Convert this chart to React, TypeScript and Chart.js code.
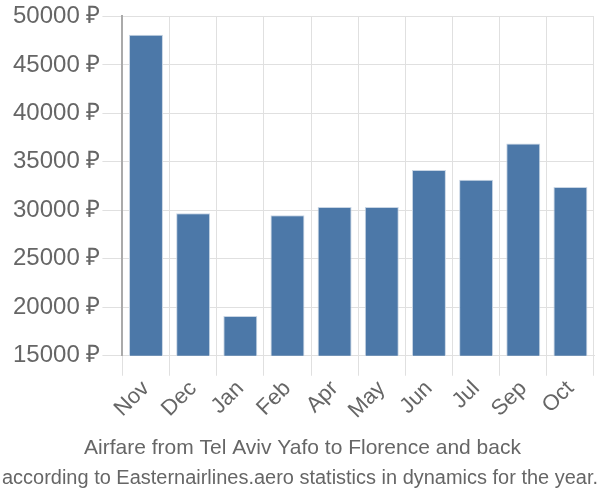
import React, { useEffect, useRef } from "react";
import { Chart, registerables } from "chart.js";

Chart.register(...registerables);

const categories = ["Nov", "Dec", "Jan", "Feb", "Apr", "May", "Jun", "Jul", "Sep", "Oct"];
const prices = [48100, 29700, 19100, 29500, 30350, 30350, 34150, 33150, 36900, 32400];
const yTicks = [15000, 20000, 25000, 30000, 35000, 40000, 45000, 50000];
const titleText = "Airfare from Tel Aviv Yafo to Florence and back";
const subtitleText = "according to Easternairlines.aero statistics in dynamics for the year.";

const narrowSubtitle = {
  id: "narrowSubtitle",
  afterDraw(chart: any) {
    const box = chart.boxes.find((b: any) => b.options && b.options.text === subtitleText);
    if (!box) return;
    const ctx = chart.ctx;
    ctx.save();
    ctx.font = "20px 'Liberation Sans'";
    const w = ctx.measureText(subtitleText).width;
    const cy = box.top + 5 + 12;
    ctx.translate(300, cy);
    ctx.scale(596 / w, 1);
    ctx.textAlign = "center";
    ctx.textBaseline = "middle";
    ctx.fillStyle = "#666";
    ctx.fillText(subtitleText, 0, 0);
    ctx.restore();
  },
};

export default function App() {
  const ref = useRef<HTMLCanvasElement | null>(null);
  useEffect(() => {
    if (!ref.current) return;
    const chart = new Chart(ref.current, {
      type: "bar",
      data: {
        labels: categories,
        datasets: [
          {
            data: prices,
            backgroundColor: "#4c78a8",
            borderColor: "#c8d5e4",
            borderWidth: 1,
          },
        ],
      },
      options: {
        animation: false,
        responsive: false,
        layout: { padding: { top: 4, right: 6, left: 11, bottom: 10 } },
        plugins: {
          legend: { display: false },
          tooltip: { enabled: false },
          title: {
            display: true,
            position: "bottom",
            text: titleText,
            color: "#666",
            font: { family: "Liberation Sans", size: 21, weight: "normal" },
            padding: { top: 12, bottom: 0 },
            weight: 1,
          } as any,
          subtitle: {
            display: true,
            position: "bottom",
            text: subtitleText,
            color: "rgba(0,0,0,0)",
            font: { family: "Liberation Sans", size: 20, weight: "normal" },
            padding: { top: 5, bottom: 0 },
            weight: 2,
          } as any,
        },
        scales: {
          x: {
            grid: { color: "#e0e0e0", tickLength: 20, offset: true },
            border: { color: "#e0e0e0" },
            ticks: {
              color: "#666",
              font: { family: "Liberation Sans", size: 22 },
              maxRotation: 45,
              minRotation: 45,
              padding: 0,
            },
          },
          y: {
            min: 15000,
            max: 50000,
            afterBuildTicks: (axis: any) => {
              axis.ticks = yTicks.map((v) => ({ value: v }));
            },
            grid: { color: "#e0e0e0", tickLength: 20 },
            border: { color: "#aaa", width: 2 },
            ticks: {
              color: "#666",
              font: { family: "Liberation Sans", size: 24 },
              padding: 2,
              callback: (v: any) => `${v} ₽`,
            },
          },
        },
      },
      plugins: [narrowSubtitle],
    });
    return () => chart.destroy();
  }, []);
  return (
    <div style={{ position: "fixed", left: 0, top: 0, width: 600, height: 500 }}>
      <canvas ref={ref} width={600} height={500} />
    </div>
  );
}
